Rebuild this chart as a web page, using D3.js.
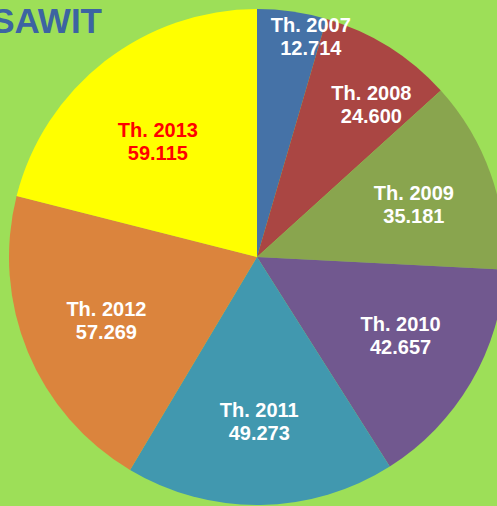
<!DOCTYPE html>
<html>
<head>
<meta charset="utf-8">
<script src="https://cdn.jsdelivr.net/npm/d3@7"></script>
<style>
  html, body { margin: 0; padding: 0; background: #9ddf58; overflow: hidden; }
  svg { display: block; font-family: "Liberation Sans", Arial, sans-serif; }
</style>
</head>
<body>
<div id="chart"></div>
<script>
// data
const years = ['2007', '2008', '2009', '2010', '2011', '2012', '2013'];
const values = [12714, 24600, 35181, 42657, 49273, 57269, 59115];
const valueLabels = ['12.714', '24.600', '35.181', '42.657', '49.273', '57.269', '59.115'];

const colors = ['#4572a7', '#aa4643', '#89a54e', '#71588f', '#4198af', '#db843d', '#ffff00'];
const labelColors = ['#fff', '#fff', '#fff', '#fff', '#fff', '#fff', '#ff0000'];

// small slices push their labels outward (best fit)
const labelRadius = [228, 192, 166, 163, 163, 163, 153];
const labelTurn = [5.5, 4.5, 0.5, -2, 0, 0, -2.5];

const width = 497, height = 506;
const cx = 257, cy = 257, radius = 248;

const svg = d3.select('#chart')
  .append('svg')
  .attr('width', width)
  .attr('height', height);

const pie = d3.pie()
  .value(d => d)
  .sort(null);

const arcs = pie(values);

const arc = d3.arc()
  .innerRadius(0)
  .outerRadius(radius);

const g = svg.append('g')
  .attr('transform', `translate(${cx},${cy})`);

g.selectAll('.slice')
  .data(arcs)
  .enter()
  .append('path')
  .attr('class', 'slice')
  .attr('d', arc)
  .attr('fill', (d, i) => colors[i]);

const labels = g.selectAll('.label')
  .data(arcs)
  .enter()
  .append('text')
  .attr('class', 'label')
  .attr('text-anchor', 'middle')
  .attr('font-size', 20)
  .attr('font-weight', 'bold')
  .attr('fill', (d, i) => labelColors[i])
  .attr('transform', (d, i) => {
    const a = (d.startAngle + d.endAngle) / 2 + labelTurn[i] * Math.PI / 180;
    const r = labelRadius[i];
    return `translate(${r * Math.sin(a)},${-r * Math.cos(a)})`;
  });

labels.append('tspan')
  .attr('x', 0)
  .attr('y', -3)
  .text((d, i) => 'Th. ' + years[i]);

labels.append('tspan')
  .attr('x', 0)
  .attr('y', 20)
  .text((d, i) => valueLabels[i]);

svg.append('text')
  .attr('x', 102)
  .attr('y', 33)
  .attr('text-anchor', 'end')
  .attr('font-size', 35)
  .attr('font-weight', 'bold')
  .attr('fill', '#3c64a2')
  .text('SAWIT');
</script>
</body>
</html>
